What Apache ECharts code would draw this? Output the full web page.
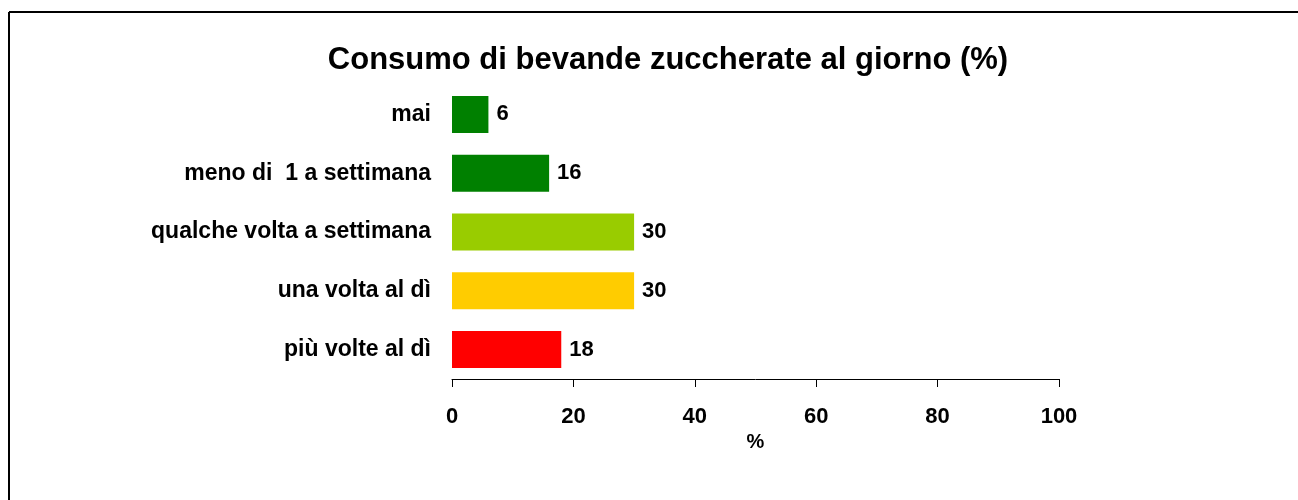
<!DOCTYPE html>
<html>
<head>
<meta charset="utf-8">
<script src="https://cdn.jsdelivr.net/npm/echarts@6/dist/echarts.min.js"></script>
<style>
html,body{margin:0;padding:0;background:#fff;}
#chart{width:1298px;height:500px;}
</style>
</head>
<body>
<div id="chart"></div>
<script>
const categories = ['mai', 'meno di  1 a settimana', 'qualche volta a settimana', 'una volta al dì', 'più volte al dì'];
const values = [6, 16, 30, 30, 18];
const barColors = ['#008000', '#008000', '#99CC00', '#FFCC00', '#FF0000'];
const xTicks = [0, 20, 40, 60, 80, 100];

const chart = echarts.init(document.getElementById('chart'), null, {renderer: 'canvas'});
const font = 'Liberation Sans, Arial, sans-serif';
chart.setOption({
  animation: false,
  title: {
    text: 'Consumo di bevande zuccherate al giorno (%)',
    left: 663, top: 40, textAlign: 'center',
    textStyle: {fontFamily: font, fontWeight: 'bold', fontSize: 31, color: '#000'}
  },
  graphic: [
    {type: 'line', shape: {x1: 9, y1: 12, x2: 1298, y2: 12}, style: {stroke: '#000', lineWidth: 2}},
    {type: 'line', shape: {x1: 9, y1: 12, x2: 9, y2: 500}, style: {stroke: '#000', lineWidth: 2}}
  ],
  grid: {left: 452, right: 239, top: 85, bottom: 121, containLabel: false},
  xAxis: {
    type: 'value', min: xTicks[0], max: xTicks[xTicks.length - 1], interval: 20,
    name: '%', nameLocation: 'middle', nameGap: 51,
    nameTextStyle: {fontFamily: font, fontWeight: 'bold', fontSize: 20, color: '#000'},
    axisLine: {show: true, lineStyle: {color: '#000', width: 1}},
    axisTick: {show: true, length: 8, lineStyle: {color: '#000'}},
    axisLabel: {fontFamily: font, fontWeight: 'bold', fontSize: 22, color: '#000', margin: 27},
    splitLine: {show: false}
  },
  yAxis: {
    type: 'category', data: categories, inverse: true,
    axisLine: {show: false}, axisTick: {show: false},
    axisLabel: {fontFamily: font, fontWeight: 'bold', fontSize: 23, color: '#000', margin: 21}
  },
  series: [{
    type: 'bar',
    data: values.map((v, i) => ({value: v, itemStyle: {color: barColors[i]}})),
    barCategoryGap: '37%',
    label: {show: true, position: 'right', distance: 8,
      fontFamily: font, fontWeight: 'bold', fontSize: 22, color: '#000'}
  }]
});
</script>
</body>
</html>
